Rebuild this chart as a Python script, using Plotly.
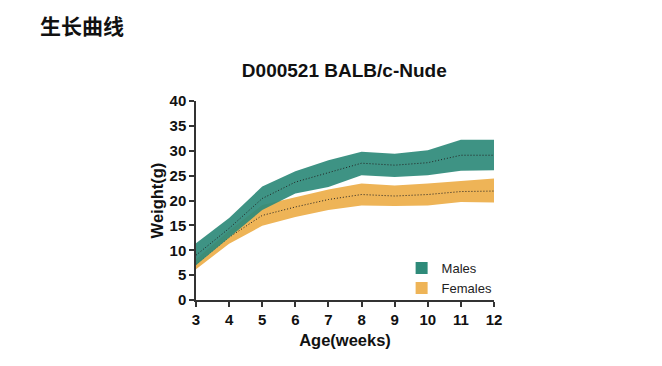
import plotly.graph_objects as go

weeks = [3, 4, 5, 6, 7, 8, 9, 10, 11, 12]
male_mean = [9.0, 14.4, 20.4, 23.7, 25.6, 27.5, 27.1, 27.6, 29.1, 29.1]
male_upper = [11.4, 16.5, 22.8, 25.9, 28.1, 29.8, 29.4, 30.1, 32.2, 32.2]
male_lower = [7.0, 12.6, 18.1, 21.4, 22.7, 25.1, 24.7, 25.1, 26.0, 26.1]
female_mean = [7.2, 12.6, 17.0, 18.7, 20.2, 21.2, 20.9, 21.2, 21.8, 21.9]
female_upper = [8.2, 13.9, 19.1, 20.7, 22.2, 23.4, 23.0, 23.4, 23.9, 24.4]
female_lower = [6.2, 11.3, 14.9, 16.7, 18.1, 19.0, 18.9, 19.0, 19.7, 19.6]
y_ticks = [0, 5, 10, 15, 20, 25, 30, 35, 40]

GREEN = "#2e8a79"
ORANGE = "#eeb457"
font_family = "Liberation Sans, Arial, sans-serif"

fig = go.Figure()

# Females band
fig.add_trace(go.Scatter(x=weeks, y=female_upper, mode="lines", line=dict(width=0, color=ORANGE),
                         showlegend=False, hoverinfo="skip"))
fig.add_trace(go.Scatter(x=weeks, y=female_lower, mode="lines", line=dict(width=0, color=ORANGE),
                         fill="tonexty", fillcolor=ORANGE, showlegend=False, hoverinfo="skip"))
fig.add_trace(go.Scatter(x=weeks, y=female_mean, mode="lines",
                         line=dict(width=1, color="#222222", dash="1px,2px"), showlegend=False))

# Males band
fig.add_trace(go.Scatter(x=weeks, y=male_upper, mode="lines", line=dict(width=0, color=GREEN),
                         showlegend=False, hoverinfo="skip"))
fig.add_trace(go.Scatter(x=weeks, y=male_lower, mode="lines", line=dict(width=0, color=GREEN),
                         fill="tonexty", fillcolor="rgba(46,138,121,0.92)", showlegend=False, hoverinfo="skip"))
fig.add_trace(go.Scatter(x=weeks, y=male_mean, mode="lines",
                         line=dict(width=1, color="#222222", dash="1px,2px"), showlegend=False))

# Legend entries
fig.add_trace(go.Scatter(x=[None], y=[None], mode="markers", name="Males",
                         marker=dict(symbol="square", size=12, color=GREEN)))
fig.add_trace(go.Scatter(x=[None], y=[None], mode="markers", name="Females",
                         marker=dict(symbol="square", size=12, color=ORANGE)))

fig.update_layout(
    width=662, height=366,
    margin=dict(l=188, r=176, t=93, b=74),
    paper_bgcolor="white", plot_bgcolor="white",
    font=dict(family=font_family, color="#111111"),
    title=dict(text="<b>D000521 BALB/c-Nude</b>", x=0.508, xanchor="center", y=0.83, yanchor="middle",
               font=dict(size=19, color="#111111")),
    legend=dict(x=0.69, y=0.11, xanchor="left", yanchor="middle", bgcolor="rgba(0,0,0,0)",
                traceorder="normal",
                font=dict(size=13, color="#222222"), tracegroupgap=0, itemwidth=30),
    showlegend=True,
    annotations=[dict(text="<b>生长曲线</b>", xref="paper", yref="paper", x=-0.53, y=1.465,
                      xanchor="left", yanchor="top", showarrow=False,
                      font=dict(family="Noto Sans CJK SC", size=21, color="#111111"))],
)

fig.update_xaxes(range=[3, 12], tickvals=weeks, ticktext=["<b>%d</b>" % w for w in weeks],
                 showgrid=False, zeroline=False, showline=True, linecolor="#333333", linewidth=1.5,
                 ticks="outside", ticklen=5, tickwidth=1.5, tickcolor="#333333",
                 tickfont=dict(size=15, family=font_family, color="#111111"),
                 title=dict(text="<b>Age(weeks)</b>", font=dict(size=16.5), standoff=8))
fig.update_yaxes(range=[0, 40], tickvals=y_ticks,
                 ticktext=["<b>%d</b>" % v for v in y_ticks],
                 showgrid=False, zeroline=False, showline=True, linecolor="#333333", linewidth=1.5,
                 ticks="outside", ticklen=5, tickwidth=1.5, tickcolor="#333333",
                 tickfont=dict(size=15, family=font_family, color="#111111"),
                 title=dict(text="<b>Weight(g)</b>", font=dict(size=16.5), standoff=2))

fig.write_html("out.html")
